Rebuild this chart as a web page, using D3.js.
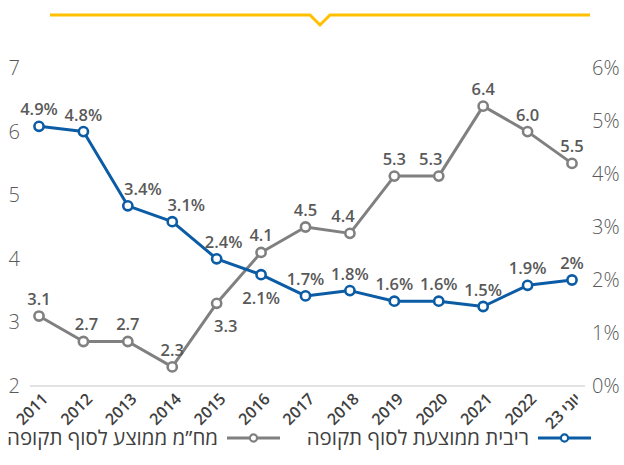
<!DOCTYPE html>
<html>
<head>
<meta charset="utf-8">
<script src="https://cdn.jsdelivr.net/npm/d3@7"></script>
<style>
	body { margin: 0; background: #fff; }
	svg { display: block; font-family: "Open Sans", "Liberation Sans", sans-serif; }
</style>
</head>
<body>
<svg id="chart" width="624" height="465"></svg>
<script>
const years = ["2011", "2012", "2013", "2014", "2015", "2016", "2017", "2018", "2019", "2020", "2021", "2022", "יוני 23"]
const durationValues = [3.1, 2.7, 2.7, 2.3, 3.3, 4.1, 4.5, 4.4, 5.3, 5.3, 6.4, 6.0, 5.5]
const rateValues = [4.9, 4.8, 3.4, 3.1, 2.4, 2.1, 1.7, 1.8, 1.6, 1.6, 1.5, 1.9, 2.0]
const leftTicks = [2, 3, 4, 5, 6, 7]
const rightTicks = [0, 1, 2, 3, 4, 5, 6]
const legendNames = ["ריבית ממוצעת לסוף תקופה", "מח”מ ממוצע לסוף תקופה"]

const blue = "#0b5ca5", gray = "#808080"

const svg = d3.select("#chart")

const x = d3.scalePoint().domain(years).range([39, 572])
const yLeft = d3.scaleLinear().domain([2, 7]).range([386, 68])
const yRight = d3.scaleLinear().domain([0, 6]).range([386, 68])

//yellow header rule with the little notch in the middle
svg.append("path")
	.attr("d", "M50,15 L310,15 L320,25 L330,15 L590,15")
	.attr("fill", "none").attr("stroke", "#ffc000").attr("stroke-width", 3)

//baseline
svg.append("line")
	.attr("x1", 30).attr("x2", 585).attr("y1", 386).attr("y2", 386)
	.attr("stroke", "#d9d9d9").attr("stroke-width", 1.5)

svg.append("g")
	.attr("transform", "translate(20,0)")
	.call(d3.axisLeft(yLeft).tickValues(leftTicks).tickFormat(d3.format("d")).tickSize(0).tickPadding(0))
	.call(g => g.select(".domain").remove())
	.selectAll("text")
		.attr("font-size", 20).attr("font-weight", 300).attr("fill", "#595959")
		.attr("font-family", "Open Sans, sans-serif")

svg.append("g")
	.attr("transform", "translate(592,0)")
	.call(d3.axisRight(yRight).tickValues(rightTicks).tickFormat(d => d + "%").tickSize(0).tickPadding(0))
	.call(g => g.select(".domain").remove())
	.selectAll("text")
		.attr("font-size", 20).attr("font-weight", 300).attr("fill", "#595959")
		.attr("font-family", "Open Sans, sans-serif")

//x labels, rotated
svg.append("g").selectAll("text")
	.data(years)
	.join("text")
		.attr("transform", d => `translate(${x(d) + 10},${400}) rotate(-45)`)
		.attr("text-anchor", "end")
		.attr("font-size", 16).attr("font-weight", 600).attr("fill", "#404040")
		.text(d => d)

function drawSeries(values, y, color, fmt, labelPlace) {
	const pts = values.map((v, i) => ({year: years[i], v, i}))
	const line = d3.line().x(d => x(d.year)).y(d => y(d.v))

	const g = svg.append("g")
	g.append("path")
		.datum(pts)
		.attr("d", line)
		.attr("fill", "none").attr("stroke", color).attr("stroke-width", 3)
		.attr("stroke-linejoin", "round")

	g.selectAll("circle")
		.data(pts)
		.join("circle")
			.attr("cx", d => x(d.year)).attr("cy", d => y(d.v)).attr("r", 4.6)
			.attr("fill", "#fff").attr("stroke", color).attr("stroke-width", 2.6)

	g.selectAll("text")
		.data(pts)
		.join("text")
			.attr("x", d => x(d.year) + ((labelPlace[d.i] || {}).dx || 0))
			.attr("y", d => {
				let p = labelPlace[d.i] || {}
				return y(d.v) + (p.below ? 29 : -11)
			})
			.attr("text-anchor", "middle")
			.attr("font-size", 16.5).attr("font-weight", 600).attr("fill", "#595959")
			.text(d => fmt(d.v))
}

//hand nudges so labels don't sit on the lines (like in the original)
drawSeries(durationValues, yLeft, gray, v => v.toFixed(1), {
	1: {dx: 3}, 4: {below: true, dx: 9}, 7: {dx: -7}, 9: {dx: -8},
})
drawSeries(rateValues, yRight, blue, v => (+v.toFixed(1)) + "%", {
	2: {dx: 15}, 3: {dx: 14}, 4: {dx: 7}, 5: {below: true},
})

//legend, right to left
const legendItems = [
	{name: legendNames[0], color: blue, x: 591},
	{name: legendNames[1], color: gray, x: 280},
]
const lg = svg.append("g").selectAll("g")
	.data(legendItems)
	.join("g")
		.attr("transform", d => `translate(${d.x},438)`)
lg.append("line")
	.attr("x1", -53).attr("x2", 0)
	.attr("stroke", d => d.color).attr("stroke-width", 3)
lg.append("circle")
	.attr("cx", -26.5).attr("r", 3.6)
	.attr("fill", "#fff").attr("stroke", d => d.color).attr("stroke-width", 2.2)
lg.append("text")
	.attr("x", -62).attr("y", 7)
	.attr("text-anchor", "end")
	.attr("font-size", 20.5).attr("fill", "#404040")
	.text(d => d.name)
</script>
</body>
</html>
